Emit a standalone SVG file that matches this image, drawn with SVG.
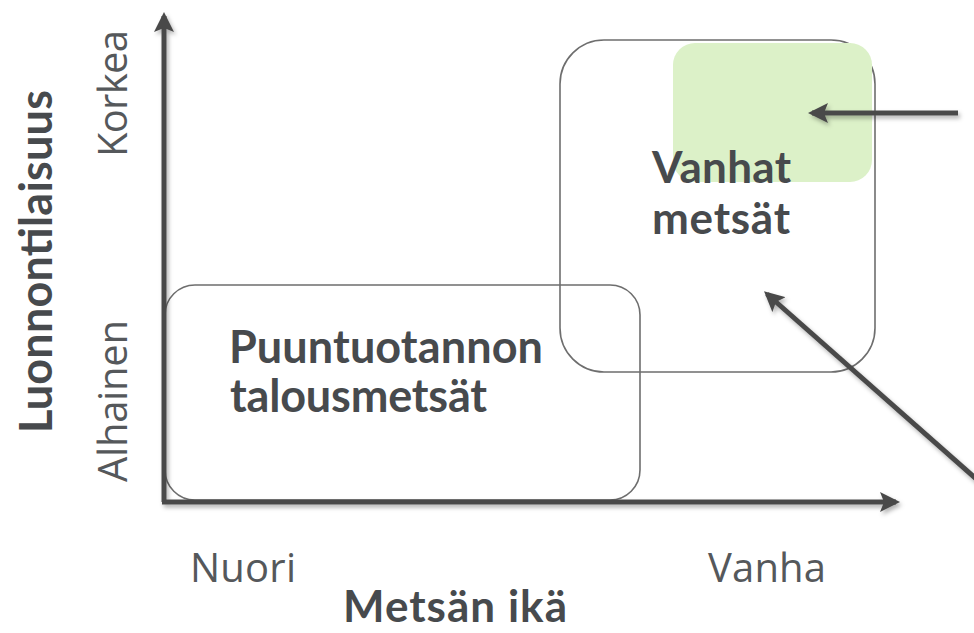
<svg xmlns="http://www.w3.org/2000/svg" width="974" height="633" viewBox="0 0 974 633">
  <style>
    .box { fill: none; stroke: #6e6e6e; stroke-width: 1.6; }
    .bold { font-family: Lato, "Open Sans", "Liberation Sans", sans-serif; font-weight: 700; fill: #474a4d; }
    .light { font-family: "Open Sans", "Noto Sans", "Liberation Sans", sans-serif; font-weight: 400; fill: #55585b; }
    .arrow { fill: none; stroke: #4a4a4a; stroke-linecap: butt; }
  </style>
  <defs>
    <marker id="head" viewBox="0 0 10 10" refX="8" refY="5" markerWidth="4" markerHeight="4" orient="auto" markerUnits="strokeWidth">
      <path d="M0,0 L10,5 L0,10 L2,5 Z" fill="#4a4a4a"/>
    </marker>
    <filter id="shadow" x="-10%" y="-10%" width="120%" height="120%">
      <feDropShadow dx="2" dy="3" stdDeviation="2" flood-color="#000" flood-opacity="0.3"/>
    </filter>
  </defs>
  <rect width="974" height="633" fill="#ffffff"/>

  <g id="node-vanhat">
    <rect class="box" x="560" y="40" width="315" height="332" rx="44"/>
    <rect x="673" y="43" width="199" height="139" rx="22" fill="#dcf1c8"/>
    <text class="bold" font-size="44"><tspan x="652" y="183" textLength="139">Vanhat</tspan><tspan x="652" y="234" textLength="138">metsät</tspan></text>
  </g>

  <g id="node-talous">
    <rect class="box" x="165" y="285" width="475" height="215" rx="30"/>
    <text class="bold" font-size="45"><tspan x="229" y="363" textLength="314">Puuntuotannon</tspan><tspan x="230" y="412" textLength="257">talousmetsät</tspan></text>
  </g>

  <g id="connectors" filter="url(#shadow)">
    <line class="arrow" x1="164" y1="502" x2="164" y2="16" stroke-width="5" marker-end="url(#head)"/>
    <line class="arrow" x1="162" y1="502" x2="896" y2="502" stroke-width="5" marker-end="url(#head)"/>
    <line class="arrow" x1="958" y1="113" x2="812" y2="113" stroke-width="5" marker-end="url(#head)"/>
    <line class="arrow" x1="982" y1="484" x2="767" y2="294" stroke-width="5" marker-end="url(#head)"/>
  </g>

  <g id="labels">
    <text class="bold" font-size="45" text-anchor="middle" transform="translate(52,261.5) rotate(-90)" textLength="343">Luonnontilaisuus</text>
    <text class="light" font-size="40" text-anchor="middle" transform="translate(127,93.5) rotate(-90)" textLength="127">Korkea</text>
    <text class="light" font-size="40" text-anchor="middle" transform="translate(127,401) rotate(-90)" textLength="162">Alhainen</text>
    <text class="light" font-size="40" x="190" y="582" textLength="106">Nuori</text>
    <text class="light" font-size="40" x="708" y="582" textLength="118">Vanha</text>
    <text class="bold" font-size="44" x="343" y="622" textLength="224">Metsän ikä</text>
  </g>
</svg>
